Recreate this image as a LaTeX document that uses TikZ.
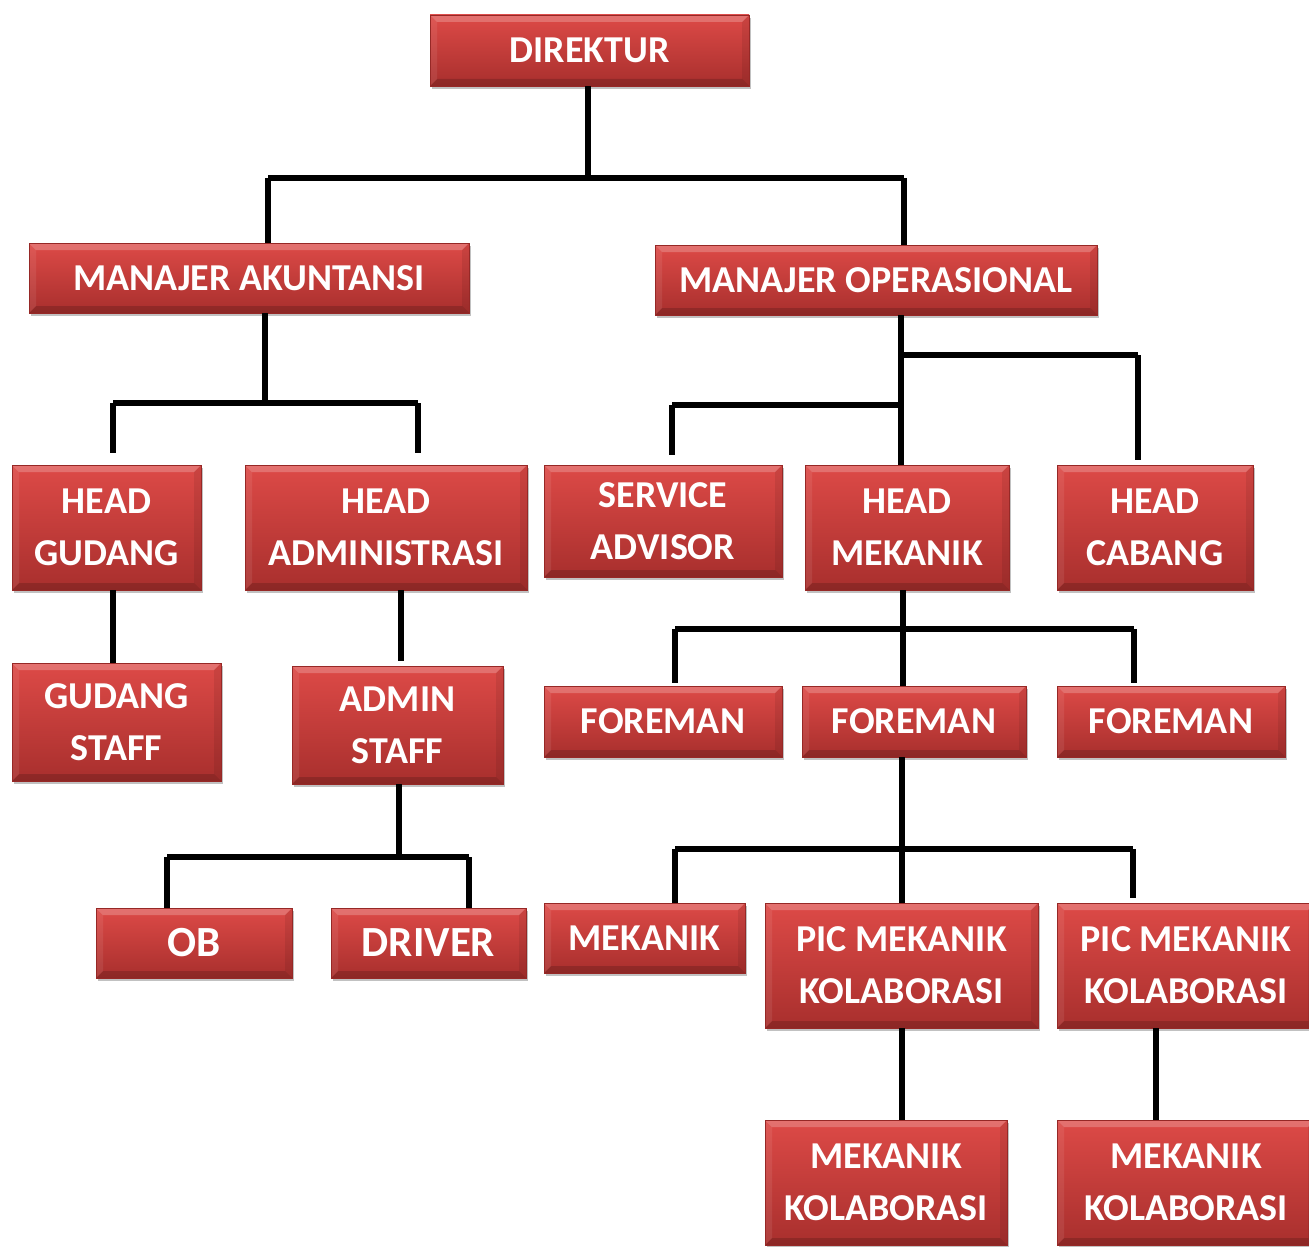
\documentclass[tikz,border=0pt]{standalone}
\usepackage{fontspec}
\setmainfont{Carlito}
\usetikzlibrary{shadows,calc}
\definecolor{boxtop}{RGB}{221,74,71}
\definecolor{boxbot}{RGB}{168,47,45}
\definecolor{boxedge}{RGB}{150,40,38}
\begin{document}
\begin{tikzpicture}[x=1pt,y=-1pt,
  orgbox/.style={rectangle, inner sep=0pt, align=center, text=white,
    font=\fontsize{38}{52}\selectfont\bfseries,
    top color=boxtop, bottom color=boxbot, draw=boxedge, line width=0.6pt,
    drop shadow={opacity=0.35, shadow xshift=2pt, shadow yshift=-3pt, fill=black!70},
    path picture={
      \fill[white,opacity=0.22] (path picture bounding box.north west) -- (path picture bounding box.north east)
        -- ([xshift=-7pt,yshift=-7pt]path picture bounding box.north east) -- ([xshift=7pt,yshift=-7pt]path picture bounding box.north west) -- cycle;
      \fill[black,opacity=0.16] (path picture bounding box.south west) -- (path picture bounding box.south east)
        -- ([xshift=-7pt,yshift=7pt]path picture bounding box.south east) -- ([xshift=7pt,yshift=7pt]path picture bounding box.south west) -- cycle;
      \fill[black,opacity=0.08] (path picture bounding box.north east) -- (path picture bounding box.south east)
        -- ([xshift=-7pt,yshift=7pt]path picture bounding box.south east) -- ([xshift=-7pt,yshift=-7pt]path picture bounding box.north east) -- cycle;
      \fill[white,opacity=0.08] (path picture bounding box.north west) -- (path picture bounding box.south west)
        -- ([xshift=7pt,yshift=7pt]path picture bounding box.south west) -- ([xshift=7pt,yshift=-7pt]path picture bounding box.north west) -- cycle;
    }},
  big/.style={font=\fontsize{43}{52}\selectfont\bfseries},
  conn/.style={line width=6.5pt, black, line join=miter}]
\useasboundingbox (0,0) rectangle (1309,1247);
\clip (0,0) rectangle (1309,1247);

% boxes
\node[orgbox, minimum width=319, minimum height=71] (dir) at (589.5,50.5) {DIREKTUR};
\node[orgbox, minimum width=440, minimum height=70] (ma) at (249,278) {MANAJER AKUNTANSI};
\node[orgbox, minimum width=442, minimum height=70] (mo) at (876,280) {MANAJER OPERASIONAL};
\node[orgbox, minimum width=189, minimum height=125] (hg) at (106.5,527.5) {HEAD\\GUDANG};
\node[orgbox, minimum width=282, minimum height=125] (ha) at (386,527.5) {HEAD\\ADMINISTRASI};
\node[orgbox, minimum width=238, minimum height=112] (sa) at (663,521) {SERVICE\\ADVISOR};
\node[orgbox, minimum width=204, minimum height=125] (hm) at (907,527.5) {HEAD\\MEKANIK};
\node[orgbox, minimum width=196, minimum height=125] (hc) at (1155,527.5) {HEAD\\CABANG};
\node[orgbox, minimum width=209, minimum height=118] (gs) at (116.5,722) {GUDANG\\STAFF};
\node[orgbox, minimum width=211, minimum height=118] (as) at (397.5,725) {ADMIN\\STAFF};
\node[orgbox, minimum width=238, minimum height=71] (f1) at (663,721.5) {FOREMAN};
\node[orgbox, minimum width=224, minimum height=71] (f2) at (914,721.5) {FOREMAN};
\node[orgbox, minimum width=228, minimum height=71] (f3) at (1171,721.5) {FOREMAN};
\node[orgbox, big, minimum width=196, minimum height=70] (ob) at (194,943) {OB};
\node[orgbox, big, minimum width=195, minimum height=70] (dr) at (428.5,943) {DRIVER};
\node[orgbox, minimum width=201, minimum height=70] (mk) at (644.5,938) {MEKANIK};
\node[orgbox, minimum width=273, minimum height=125] (p1) at (901.5,965.5) {PIC MEKANIK\\KOLABORASI};
\node[orgbox, minimum width=258, minimum height=125] (p2) at (1186,965.5) {PIC MEKANIK\\KOLABORASI};
\node[orgbox, minimum width=242, minimum height=125] (k1) at (886,1182.5) {MEKANIK\\KOLABORASI};
\node[orgbox, minimum width=258, minimum height=125] (k2) at (1186,1182.5) {MEKANIK\\KOLABORASI};

% bus coordinates
\coordinate (b1) at (588,178);
\coordinate (b1l) at (268,178);
\coordinate (b1r) at (904,178);
\coordinate (b2) at (265,403);
\coordinate (b2l) at (113,403);
\coordinate (b2r) at (418,403);
\coordinate (b3a) at (901,355);
\coordinate (b3c) at (1138,355);
\coordinate (b3b) at (901,405);
\coordinate (b3s) at (672,405);
\coordinate (gx) at (113,600);
\coordinate (ax) at (401,600);
\coordinate (b4) at (903,629);
\coordinate (b4l) at (675,629);
\coordinate (b4r) at (1134,629);
\coordinate (b5) at (399,857);
\coordinate (b5l) at (167,857);
\coordinate (b5r) at (469,857);
\coordinate (b6) at (902,849);
\coordinate (b6l) at (675,849);
\coordinate (b6r) at (1133,849);
\coordinate (px) at (1156,1000);

% connectors
\draw[conn] (b1 |- dir.south) -- (b1);
\draw[conn] (b1l) -- (b1r);
\draw[conn] (b1l) -- (b1l |- ma.north);
\draw[conn] (b1r) -- (b1r |- mo.north);

\draw[conn] (b2 |- ma.south) -- (b2);
\draw[conn] (b2l) -- (b2r);
\draw[conn] (b2l) -- ([yshift=12pt]b2l |- hg.north);
\draw[conn] (b2r) -- ([yshift=12pt]b2r |- ha.north);

\draw[conn] (b3a |- mo.south) -- (b3a |- hm.north);
\draw[conn] (b3a) -- (b3c);
\draw[conn] (b3c) -- ([yshift=5pt]b3c |- hc.north);
\draw[conn] (b3b) -- (b3s);
\draw[conn] (b3s) -- ([yshift=10pt]b3s |- sa.north);

\draw[conn] (gx |- hg.south) -- (gx |- gs.north);
\draw[conn] (ax |- ha.south) -- ([yshift=5pt]ax |- as.north);

\draw[conn] (b4 |- hm.south) -- (b4 |- f2.north);
\draw[conn] (b4l) -- (b4r);
\draw[conn] (b4l) -- ([yshift=3pt]b4l |- f1.north);
\draw[conn] (b4r) -- ([yshift=3pt]b4r |- f3.north);

\draw[conn] (b5 |- as.south) -- (b5);
\draw[conn] (b5l) -- (b5r);
\draw[conn] (b5l) -- (b5l |- ob.north);
\draw[conn] (b5r) -- (b5r |- dr.north);

\draw[conn] (b6 |- f2.south) -- (b6 |- p1.north);
\draw[conn] (b6l) -- (b6r);
\draw[conn] (b6l) -- (b6l |- mk.north);
\draw[conn] (b6r) -- ([yshift=5pt]b6r |- p2.north);

\draw[conn] (b6 |- p1.south) -- (b6 |- k1.north);
\draw[conn] (px |- p2.south) -- (px |- k2.north);
\end{tikzpicture}
\end{document}
